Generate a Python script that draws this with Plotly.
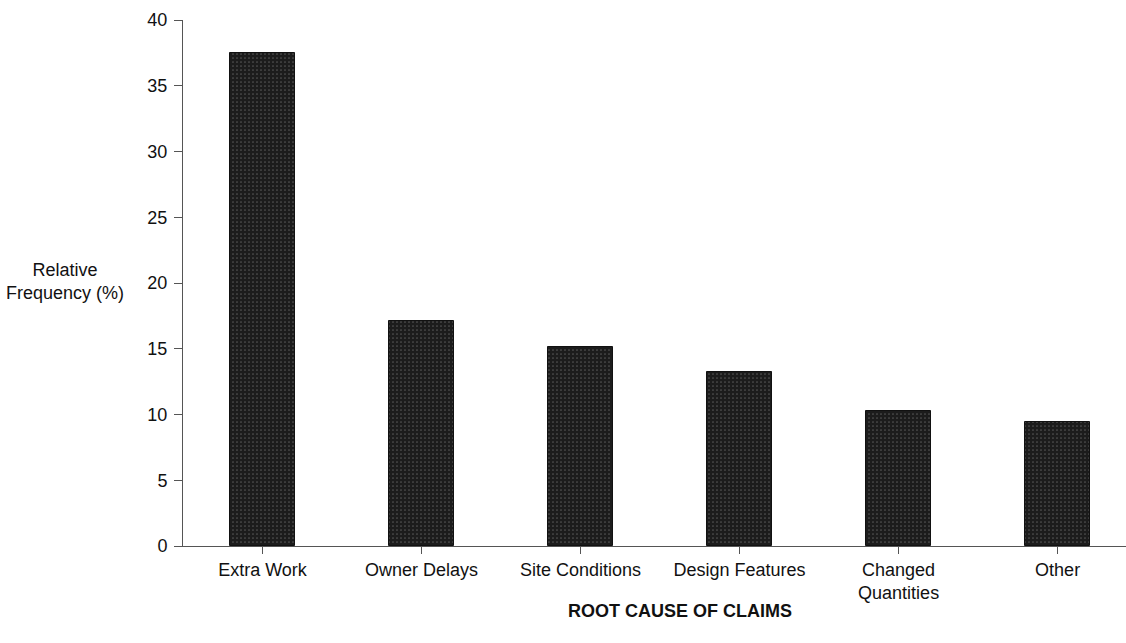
import plotly.graph_objects as go

# Root causes of construction claims and their relative frequency (%)
categories = ["Extra Work", "Owner Delays", "Site Conditions", "Design Features",
              "Changed<br>Quantities", "Other"]
frequency = [37.5, 17.1, 15.1, 13.2, 10.3, 9.4]
y_ticks = [0, 5, 10, 15, 20, 25, 30, 35, 40]

W, H = 1126, 643
ML, MR, MT, MB = 183, 0, 20, 97

fig = go.Figure()
fig.add_trace(go.Bar(
    x=list(range(len(categories))),
    y=frequency,
    width=0.41,
    marker=dict(
        color="#1c1c1c",
        line=dict(color="#111111", width=1),
        pattern=dict(shape=".", fgcolor="#8a8a8a", bgcolor="#1c1c1c",
                     size=4, solidity=0.15),
    ),
    hoverinfo="x+y",
))

font = dict(family="Liberation Sans, Arial, sans-serif", size=18, color="#111111")

fig.update_layout(
    width=W, height=H,
    margin=dict(l=ML, r=MR, t=MT, b=MB),
    paper_bgcolor="white", plot_bgcolor="white",
    showlegend=False,
    font=font,
    bargap=0,
    xaxis=dict(
        tickmode="array",
        tickvals=list(range(len(categories))),
        ticktext=categories,
        range=[-0.5, 5.43],
        showgrid=False, zeroline=False,
        showline=True, linecolor="#555555", linewidth=1,
        ticks="outside", ticklen=7, tickcolor="#555555",
        tickson="boundaries",
        tickfont=font,
    ),
    yaxis=dict(
        range=[0, 40],
        tickvals=y_ticks,
        showgrid=False, zeroline=False,
        showline=True, linecolor="#555555", linewidth=1,
        ticks="outside", ticklen=8, tickcolor="#555555",
        ticklabelstandoff=3,
        tickfont=font,
    ),
    annotations=[
        dict(text="Relative<br>Frequency (%)", xref="paper", yref="paper",
             x=(65 - ML) / (W - ML - MR), y=1 - (281 - MT) / (H - MT - MB),
             xanchor="center", yanchor="middle", showarrow=False,
             font=font, align="center"),
        dict(text="<b>ROOT CAUSE OF CLAIMS</b>", xref="paper", yref="paper",
             x=(680 - ML) / (W - ML - MR), y=1 - (611 - MT) / (H - MT - MB),
             xanchor="center", yanchor="middle", showarrow=False,
             font=dict(family="Liberation Sans, Arial, sans-serif", size=18, color="#111111")),
    ],
)

fig.write_html("out.html")
